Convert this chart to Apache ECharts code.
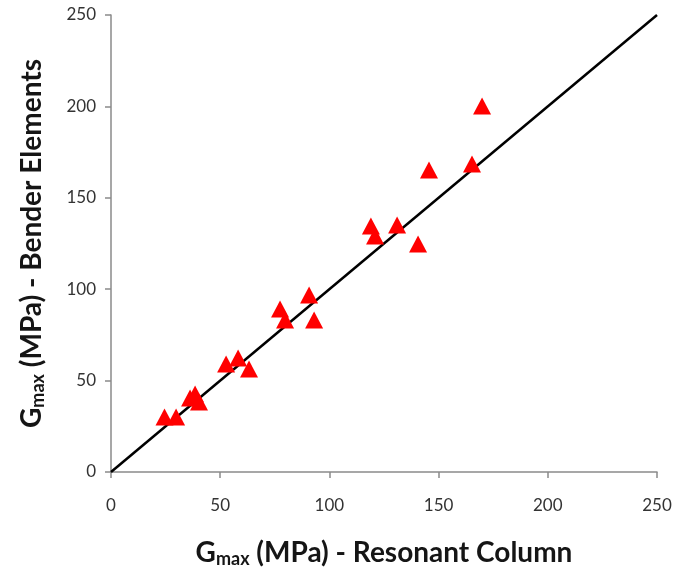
<!DOCTYPE html>
<html>
<head>
<meta charset="utf-8">
<script src="https://cdn.jsdelivr.net/npm/echarts@6/dist/echarts.min.js"></script>
<style>
  html, body { margin: 0; padding: 0; background: #fff; }
  #chart { width: 678px; height: 574px; }
</style>
</head>
<body>
<div id="chart"></div>
<script>
  // Gmax from resonant column (x) vs bender elements (y), MPa
  var rcValues = [24.5, 29.8, 36.2, 38.5, 40.3, 52.7, 58.2, 63.2, 77.4, 79.7, 90.7, 93.0,
                  119.0, 120.9, 131.0, 140.6, 145.6, 165.3, 169.9];
  var beValues = [30.1, 30.1, 40.5, 42.7, 38.3, 59.1, 62.4, 56.3, 89.2, 83.2, 96.8, 83.2,
                  134.6, 129.1, 135.1, 124.7, 165.2, 168.5, 200.2];
  var equalityLine = [[0, 0], [250, 250]];
  var tickValues = [0, 50, 100, 150, 200, 250];

  var points = rcValues.map(function (v, i) { return [v, beValues[i]]; });

  var fontFam = 'Lato, "Open Sans", sans-serif';
  var axisGrey = '#8a8a8a';

  function nameRich() {
    return {
      b: { fontSize: 28, fontWeight: 'bold', fontFamily: fontFam, color: '#151515' },
      s: { fontSize: 18, fontWeight: 'bold', fontFamily: fontFam, color: '#151515', padding: [12, 0, 0, 0] }
    };
  }

  var option = {
    animation: false,
    grid: { left: 111, right: 21, top: 15, bottom: 102 },
    xAxis: {
      type: 'value',
      min: tickValues[0],
      max: tickValues[tickValues.length - 1],
      interval: 50,
      name: '{b|G}{s|max}{b| (MPa) - Resonant Column}',
      nameLocation: 'middle',
      nameGap: 66,
      nameTextStyle: { rich: nameRich() },
      axisLine: { lineStyle: { color: axisGrey, width: 1.5 } },
      axisTick: { show: true, length: 6, lineStyle: { color: axisGrey, width: 1.5 } },
      axisLabel: { fontSize: 17, color: '#333', fontFamily: fontFam, margin: 25 },
      splitLine: { show: false }
    },
    yAxis: {
      type: 'value',
      min: tickValues[0],
      max: tickValues[tickValues.length - 1],
      interval: 50,
      name: '{b|G}{s|max}{b| (MPa) - Bender Elements}',
      nameLocation: 'middle',
      nameGap: 64,
      nameTextStyle: { rich: nameRich() },
      axisLine: { show: true, lineStyle: { color: axisGrey, width: 1.5 } },
      axisTick: { show: true, length: 6, lineStyle: { color: axisGrey, width: 1.5 } },
      axisLabel: { fontSize: 17, color: '#333', fontFamily: fontFam, margin: 15 },
      splitLine: { show: false }
    },
    series: [
      {
        name: '1:1',
        type: 'line',
        data: equalityLine,
        symbol: 'none',
        lineStyle: { color: '#000', width: 2.5 },
        z: 1
      },
      {
        name: 'data',
        type: 'scatter',
        data: points,
        symbol: 'triangle',
        symbolSize: [18, 17],
        itemStyle: { color: '#ff0000', opacity: 1 },
        z: 2
      }
    ]
  };

  var chart = echarts.init(document.getElementById('chart'));
  chart.setOption(option);
</script>
</body>
</html>
